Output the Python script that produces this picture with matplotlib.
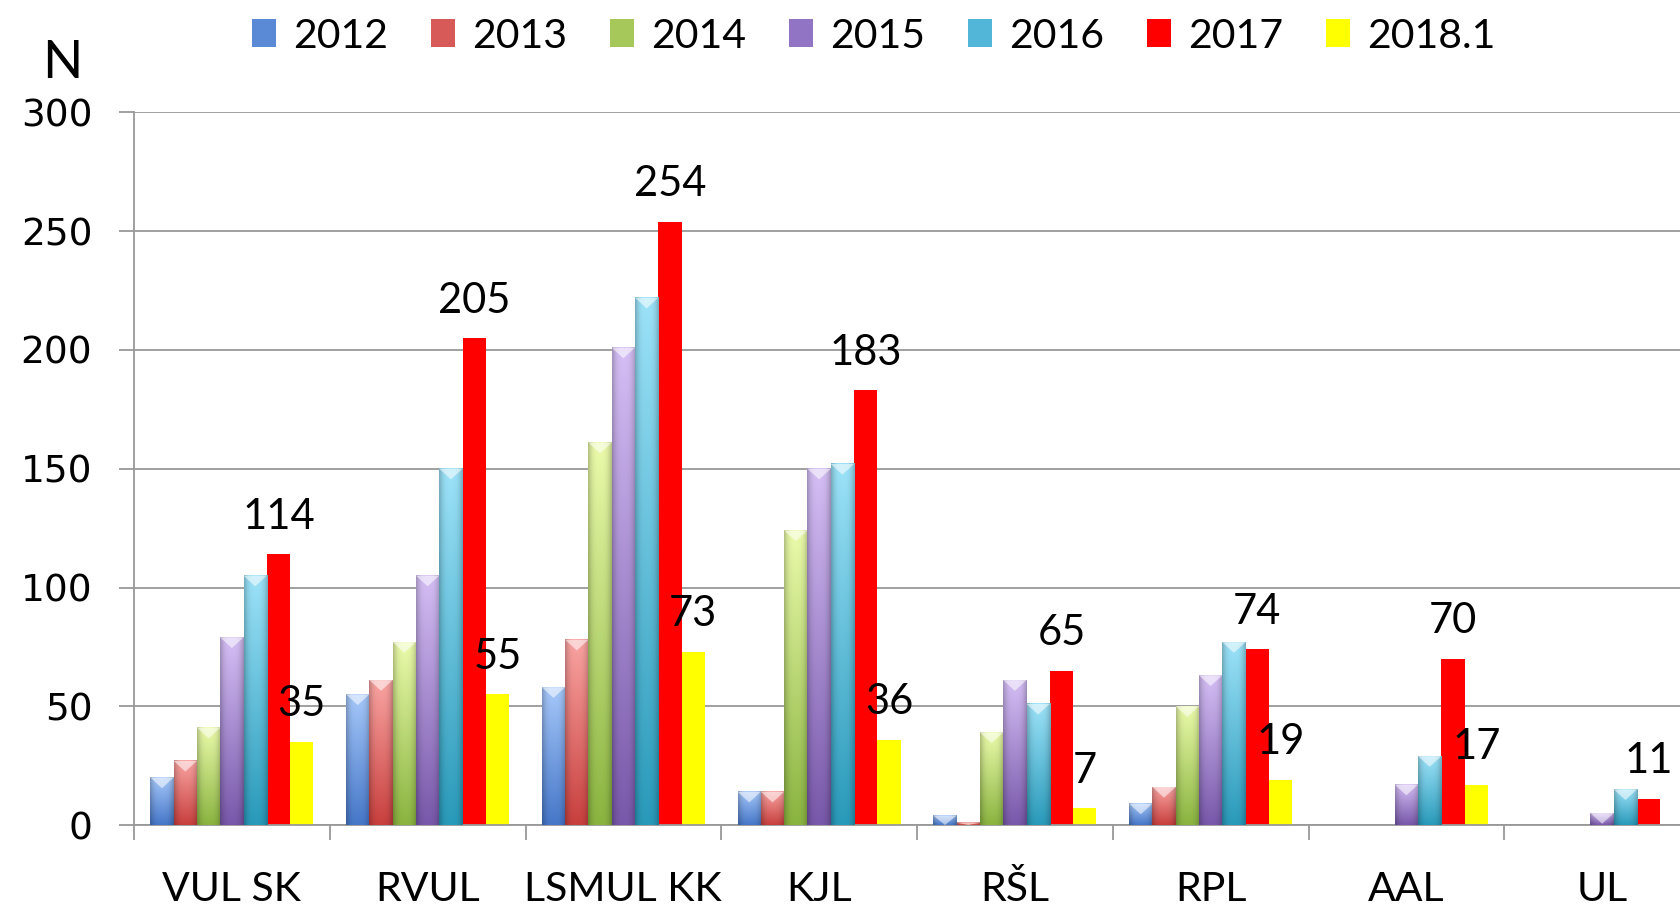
import matplotlib
matplotlib.use('Agg')
import matplotlib.pyplot as plt
import matplotlib.colors as mcolors
from matplotlib.patches import Patch, Polygon
import numpy as np

# data
categories = ['VUL SK', 'RVUL', 'LSMUL KK', 'KJL', 'RŠL', 'RPL', 'AAL', 'UL']
years = ['2012', '2013', '2014', '2015', '2016', '2017', '2018.1']
v2012 = [20, 55, 58, 14, 4, 9, 0, 0]
v2013 = [27, 61, 78, 14, 1, 16, 0, 0]
v2014 = [41, 77, 161, 124, 39, 50, 0, 0]
v2015 = [79, 105, 201, 150, 61, 63, 17, 5]
v2016 = [105, 150, 222, 152, 51, 77, 29, 15]
v2017 = [114, 205, 254, 183, 65, 74, 70, 11]
v2018 = [35, 55, 73, 36, 7, 19, 17, 0]
series = [v2012, v2013, v2014, v2015, v2016, v2017, v2018]

# (top colour, bottom colour); None -> flat fill
grads = [('#a6c8fa', '#4677c8'), ('#f9a4a2', '#c8403e'), ('#eafaaa', '#8ab440'),
         ('#d4bef4', '#7858aa'), ('#9ce2f8', '#2a9aba'), None, None]
flat = ['#5a8ad6', '#d85a58', '#a6c85a', '#9274c4', '#52b6d8', '#ff0000', '#ffff00']

fig = plt.figure(figsize=(16.8, 9.05), dpi=100)
ax = fig.add_axes([134/1680, 1-825/905, 1566/1680, 712.5/905])

x = np.arange(len(categories))
w = 0.119

def shade(p, top, bot):
    h = p.get_height()
    if h <= 0:
        return
    x0, y0, bw = p.get_x(), p.get_y(), p.get_width()
    t = np.linspace(0, 1, 60)[:, None, None]
    c = np.array(mcolors.to_rgb(top))*(1-t) + np.array(mcolors.to_rgb(bot))*t
    hx = np.linspace(-1, 1, 20)
    edge = 1 - 0.22*np.abs(hx)**3
    img = np.clip(c*edge[None, :, None], 0, 1)
    ax.imshow(img, extent=(x0, x0+bw, y0, y0+h), aspect='auto', origin='upper',
              zorder=3, interpolation='bilinear')
    d = min(4.5, h)
    tri = Polygon([(x0, y0+h), (x0+bw, y0+h), (x0+bw/2, y0+h-d)], closed=True,
                  facecolor='white', alpha=0.55, edgecolor='none', zorder=4)
    ax.add_patch(tri)

for i, vals in enumerate(series):
    off = (i-3)*w
    bars = ax.bar(x+off, vals, w, color=flat[i], zorder=2, linewidth=0)
    if grads[i] is not None:
        for p in bars:
            shade(p, *grads[i])
    if i >= 5:
        for xi, v in zip(x+off, vals):
            if v > 0:
                ax.annotate(str(v), (xi, v), xytext=(0, 27), textcoords='offset points',
                            ha='center', va='center', fontsize=30, family='Lato', zorder=6)

ax.set_xlim(-0.5, len(categories)-0.5)
ax.set_ylim(0, 300)
ax.set_yticks(range(0, 301, 50))
ax.yaxis.grid(True, color='#999999', linewidth=1.3, zorder=0)
ax.set_axisbelow(True)
for s in ['top', 'right']:
    ax.spines[s].set_visible(False)
for s in ['left', 'bottom']:
    ax.spines[s].set_color('#999999')
    ax.spines[s].set_linewidth(1.3)
ax.tick_params(axis='y', length=11, width=1.3, color='#999999', labelsize=27, pad=19)
for lab in ax.get_yticklabels():
    lab.set_family('DejaVu Sans')
ax.set_xticks(np.arange(len(categories)+1)-0.5)
ax.set_xticklabels([])
ax.set_xticks(x, minor=True)
ax.set_xticklabels(categories, minor=True, fontsize=29.5, family='Lato')
ax.tick_params(axis='x', which='major', length=11, width=1.3, color='#999999')
ax.tick_params(axis='x', which='minor', length=0, pad=33)

fig.text(62/1680, 1-64/905, 'N', fontsize=38, family='Lato', ha='center', va='center')

handles = [Patch(facecolor=c) for c in flat]
fig.legend(handles, years, loc='center', bbox_to_anchor=(0.52, 1-36/905), ncol=7,
           frameon=False, prop={'family': 'Lato', 'size': 29.5}, handlelength=0.58,
           handleheight=0.68, handletextpad=0.42, columnspacing=1.05)

fig.savefig('out.png', dpi=100)
